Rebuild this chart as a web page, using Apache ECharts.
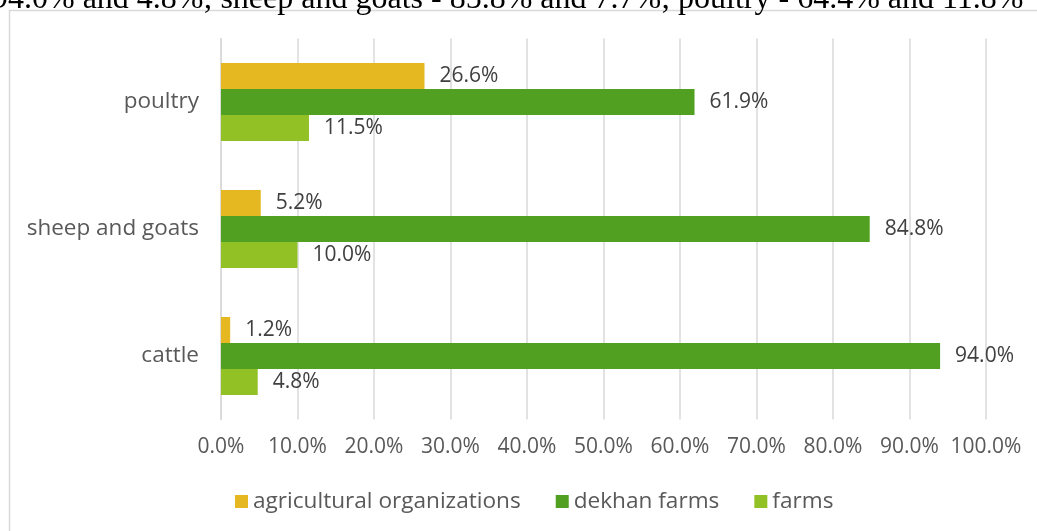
<!DOCTYPE html>
<html>
<head>
<meta charset="utf-8">
<script src="https://cdn.jsdelivr.net/npm/echarts@6/dist/echarts.min.js"></script>
<style>
html,body{margin:0;padding:0;background:#fff;}
#c{width:1037px;height:531px;}
</style>
</head>
<body>
<div id="c"></div>
<script>
const categories = ['cattle', 'sheep and goats', 'poultry'];
const agricultural = [1.2, 5.2, 26.6];
const dekhan = [94.0, 84.8, 61.9];
const farms = [4.8, 10.0, 11.5];
const seriesNames = ['agricultural organizations', 'dekhan farms', 'farms'];
const headerText = '94.0% and 4.8%; sheep and goats - 85.8% and 7.7%; poultry - 64.4% and 11.8%';

const FONT = '"Open Sans"';
const colors = ['#E5B821', '#52A022', '#92C126'];
const chart = echarts.init(document.getElementById('c'));

function mk(name, data, color) {
  return {
    name: name, type: 'bar', data: data,
    barGap: '0%', barCategoryGap: '38.6%',
    itemStyle: { color: color },
    label: {
      show: true, position: 'right', distance: 15,
      formatter: p => p.value.toFixed(1) + '%',
      color: '#404040', fontFamily: FONT, fontSize: 21
    },
    emphasis: { disabled: true }, animation: false
  };
}

chart.setOption({
  animation: false,
  graphic: [
    { type: 'rect', shape: { x: 9.5, y: 10.5, width: 1100, height: 600 },
      style: { fill: 'none', stroke: '#d9d9d9', lineWidth: 1.5 }, silent: true, z: -1 },
    { type: 'text', left: -8, top: -16,
      style: { text: headerText, font: '32px "Liberation Serif"', fill: '#000' } }
  ],
  grid: { left: 221, right: 51, top: 38.5, bottom: 111.5, containLabel: false },
  legend: {
    data: seriesNames, bottom: 13, left: 230,
    itemWidth: 13, itemHeight: 13, itemGap: 35, icon: 'rect',
    textStyle: { color: '#595959', fontFamily: FONT, fontSize: 22.6 }
  },
  xAxis: {
    type: 'value', min: 0, max: 100, interval: 10,
    axisLabel: { formatter: v => v.toFixed(1) + '%', color: '#595959', fontFamily: FONT, fontSize: 21, margin: 17 },
    splitLine: { lineStyle: { color: '#d9d9d9', width: 1.5 } },
    axisLine: { show: false }, axisTick: { show: false }
  },
  yAxis: {
    type: 'category', data: categories,
    axisLabel: { color: '#595959', fontFamily: FONT, fontSize: 22.5, margin: 22 },
    axisLine: { show: true, lineStyle: { color: '#d9d9d9', width: 1.5 } },
    axisTick: { show: false }
  },
  series: [
    mk(seriesNames[0], agricultural, colors[0]),
    mk(seriesNames[1], dekhan, colors[1]),
    mk(seriesNames[2], farms, colors[2])
  ]
});
</script>
</body>
</html>
